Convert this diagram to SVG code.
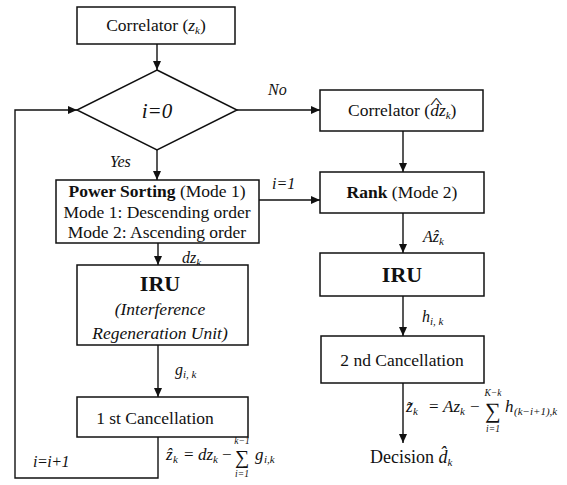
<svg xmlns="http://www.w3.org/2000/svg" width="567" height="485" viewBox="0 0 567 485">
<style>
text{font-family:"Liberation Serif","Times New Roman",serif;fill:#111;}
.box{fill:#fff;stroke:#111;stroke-width:1.5;}
.t{font-size:17.5px;text-anchor:middle;}
.b{font-weight:bold;}
.i{font-style:italic;}
.lbl{font-size:16px;font-style:italic;}
.m{font-size:17px;font-style:italic;}
.op{font-size:17px;}
.sub{font-size:11px;font-style:italic;}
.lim{font-size:9.5px;font-style:italic;text-anchor:middle;}
.ln{fill:none;stroke:#111;stroke-width:1.4;}
</style>
<defs>
<marker id="ah" markerWidth="10" markerHeight="10" refX="9" refY="5" orient="auto" markerUnits="userSpaceOnUse">
<path d="M0,1 L9,5 L0,9 Z" fill="#111"/>
</marker>
</defs>
<rect width="567" height="485" fill="#fff"/>

<g id="connectors">
<line class="ln" x1="157" y1="44" x2="157" y2="70" marker-end="url(#ah)"/>
<line class="ln" x1="157" y1="150" x2="157" y2="180" marker-end="url(#ah)"/>
<line class="ln" x1="237" y1="110" x2="320" y2="110" marker-end="url(#ah)"/>
<line class="ln" x1="259" y1="200" x2="320" y2="200" marker-end="url(#ah)"/>
<line class="ln" x1="158" y1="243" x2="158" y2="265" marker-end="url(#ah)"/>
<line class="ln" x1="158" y1="345" x2="158" y2="397" marker-end="url(#ah)"/>
<path class="ln" d="M158,437 V478 H15 V110 H77" marker-end="url(#ah)"/>
<line class="ln" x1="403" y1="131" x2="403" y2="172" marker-end="url(#ah)"/>
<line class="ln" x1="403" y1="213" x2="403" y2="253" marker-end="url(#ah)"/>
<line class="ln" x1="403" y1="296" x2="403" y2="336" marker-end="url(#ah)"/>
<line class="ln" x1="403" y1="383" x2="403" y2="443" marker-end="url(#ah)"/>
</g>

<g id="labels">
<text class="lbl" x="268" y="95">No</text>
<text class="lbl" x="110" y="167">Yes</text>
<text class="lbl" x="272" y="189">i=1</text>
<text class="lbl" x="182" y="263">dz<tspan class="sub" dy="3">k</tspan></text>
<text class="lbl" x="175" y="375">g<tspan class="sub" dy="3">i, k</tspan></text>
<text class="lbl" x="33" y="467" font-size="15" letter-spacing="-0.5">i=i+1</text>
<text class="lbl" x="423" y="242">Aẑ<tspan class="sub" dy="3">k</tspan></text>
<text class="lbl" x="422" y="322">h<tspan class="sub" dy="3">i, k</tspan></text>
</g>

<g id="formula1">
<text class="m" x="166" y="460">ẑ</text>
<text class="sub" x="173" y="463">k</text>
<text class="op" x="184" y="460">=</text>
<text class="m" x="198" y="460">dz</text>
<text class="sub" x="213" y="463">k</text>
<text class="op" x="222" y="460">−</text>
<text x="235" y="464" font-size="20">∑</text>
<text class="lim" x="242" y="444">k−1</text>
<text class="lim" x="242" y="477">i=1</text>
<text class="m" x="255" y="460">g</text>
<text class="sub" x="264" y="463">i,k</text>
</g>

<g id="formula2">
<text class="m" x="406" y="412">z̃</text>
<text class="sub" x="413" y="415">k</text>
<text class="op" x="429" y="412">=</text>
<text class="m" x="443" y="412">Az</text>
<text class="sub" x="460" y="415">k</text>
<text class="op" x="470" y="412">−</text>
<text x="485" y="418" font-size="22">∑</text>
<text class="lim" x="493" y="396">K−k</text>
<text class="lim" x="493" y="432">i=1</text>
<text class="m" x="505" y="412">h</text>
<text class="sub" x="514" y="415">(k−i+1),k</text>
</g>

<g id="corr1">
<rect class="box" x="77" y="7" width="158" height="37"/>
<text class="t" x="156" y="31">Correlator (<tspan class="i">z</tspan><tspan class="sub" dy="3">k</tspan><tspan dy="-3">)</tspan></text>
</g>

<g id="decision">
<polygon class="box" points="157,70 237,110 157,150 77,110"/>
<text x="157" y="118" font-size="21" font-style="italic" text-anchor="middle">i=0</text>
</g>

<g id="sorting">
<rect class="box" x="56" y="180" width="203" height="63"/>
<text class="t" x="157" y="197"><tspan class="b">Power Sorting</tspan> (Mode 1)</text>
<text class="t" x="157" y="218">Mode 1: Descending order</text>
<text class="t" x="157" y="238">Mode 2: Ascending order</text>
</g>

<g id="iru1">
<rect class="box" x="77" y="265" width="171" height="80"/>
<text x="160" y="291" font-size="22" font-weight="bold" text-anchor="middle">IRU</text>
<text class="t i" x="160" y="315">(Interference</text>
<text class="t i" x="160" y="339">Regeneration Unit)</text>
</g>

<g id="cancel1">
<rect class="box" x="77" y="397" width="171" height="40"/>
<text class="t" x="155" y="424" font-size="18">1 st Cancellation</text>
</g>

<g id="corr2">
<rect class="box" x="320" y="90" width="163" height="41"/>
<text x="348" y="116" font-size="17.5">Correlator (<tspan class="i">dz</tspan><tspan class="sub" dy="3">k</tspan><tspan dy="-3">)</tspan></text>
<text x="430" y="108" font-size="14" transform="translate(430,0) scale(1.9,1) translate(-430,0)">^</text>
</g>

<g id="rank">
<rect class="box" x="320" y="172" width="164" height="41"/>
<text class="t" x="402" y="198"><tspan class="b">Rank</tspan> (Mode 2)</text>
</g>

<g id="iru2">
<rect class="box" x="320" y="253" width="164" height="43"/>
<text x="402" y="282" font-size="22" font-weight="bold" text-anchor="middle">IRU</text>
</g>

<g id="cancel2">
<rect class="box" x="321" y="336" width="163" height="47"/>
<text class="t" x="402" y="366">2 nd Cancellation</text>
</g>

<g id="out">
<text x="370" y="463" font-size="18">Decision <tspan font-style="italic">d̂</tspan><tspan class="sub" dy="3">k</tspan></text>
</g>
</svg>
